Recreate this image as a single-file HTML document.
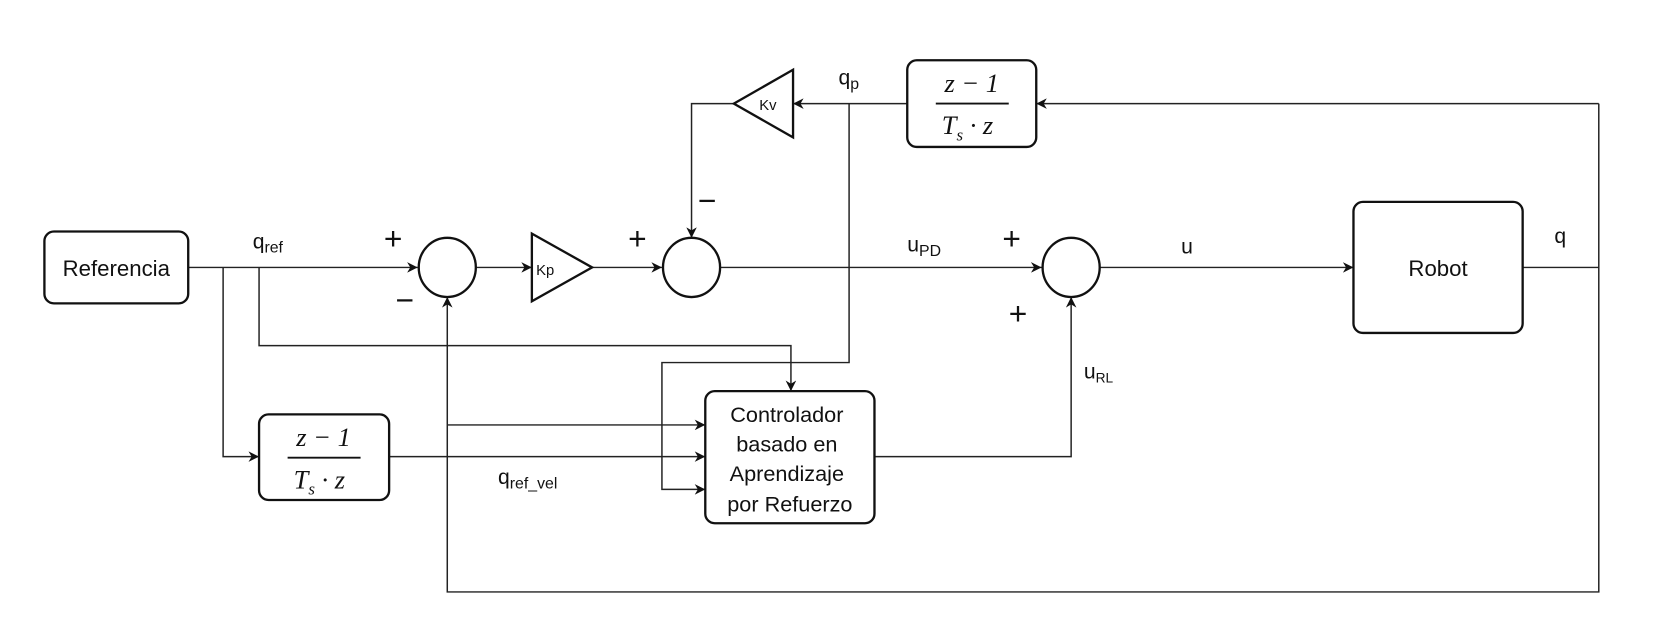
<!DOCTYPE html>
<html><head><meta charset="utf-8"><style>
html,body{margin:0;padding:0;background:#fff;}
svg{display:block;}
text{font-family:"Liberation Sans",sans-serif;fill:#111;}
.m{font-family:"Liberation Serif",serif;font-style:italic;}
</style></head><body>
<svg width="1658" height="630" viewBox="0 0 1568 596" preserveAspectRatio="none" xmlns="http://www.w3.org/2000/svg">
<defs>
<marker id="a" viewBox="0 0 10 10" refX="10" refY="5" markerWidth="10" markerHeight="10" markerUnits="userSpaceOnUse" orient="auto">
<path d="M0,0 L10,5 L0,10 L3,5 Z" fill="#111"/>
</marker>
</defs>
<g fill="none" stroke="#222" stroke-width="1.4">
<!-- main line -->
<path d="M178,253 H395" marker-end="url(#a)"/>
<path d="M450,253 H503" marker-end="url(#a)"/>
<path d="M560,253 H626" marker-end="url(#a)"/>
<path d="M681,253 H985" marker-end="url(#a)"/>
<path d="M1040,253 H1280" marker-end="url(#a)"/>
<path d="M1440,253 H1512"/>
<!-- branches -->
<path d="M211,253 V432 H245" marker-end="url(#a)"/>
<path d="M245,253 V327 H748 V370" marker-end="url(#a)"/>
<path d="M368,432 H667" marker-end="url(#a)"/>
<path d="M423,402 H667" marker-end="url(#a)"/>
<path d="M803,98 V343 H626 V463 H667" marker-end="url(#a)"/>
<!-- feedback -->
<path d="M1512,98 V560 H423 V281" marker-end="url(#a)"/>
<path d="M1512,98 H980" marker-end="url(#a)"/>
<path d="M858,98 H750" marker-end="url(#a)"/>
<path d="M694,98 H654 V225" marker-end="url(#a)"/>
<path d="M827,432 H1013 V281" marker-end="url(#a)"/>
</g>
<g fill="#fff" stroke="#111" stroke-width="2.2">
<rect x="42" y="219" width="136" height="68" rx="9"/>
<rect x="245" y="392" width="123" height="81" rx="9"/>
<rect x="858" y="57" width="122" height="82" rx="9"/>
<rect x="667" y="370" width="160" height="125" rx="9"/>
<rect x="1280" y="191" width="160" height="124" rx="9"/>
<ellipse cx="423" cy="253" rx="27" ry="28"/>
<ellipse cx="654" cy="253" rx="27" ry="28"/>
<ellipse cx="1013" cy="253" rx="27" ry="28"/>
<path d="M503,221 L560,253 L503,285 Z"/>
<path d="M750,66 L694,98 L750,130 Z"/>
</g>
<g stroke="#111" stroke-width="1.8">
<line x1="272" y1="433" x2="341" y2="433"/>
<line x1="885" y1="98" x2="954" y2="98"/>
</g>
<text x="110" y="261" font-size="21" text-anchor="middle">Referencia</text>
<text x="1360" y="261" font-size="21" text-anchor="middle">Robot</text>
<text font-size="20.5" text-anchor="middle">
<tspan x="747" y="399">Controlador</tspan>
<tspan x="747" y="427">basado en</tspan>
<tspan x="747" y="455">Aprendizaje</tspan>
<tspan x="747" y="484">por Refuerzo</tspan>
</text>
<text x="507" y="260" font-size="14">Kp</text>
<text x="718" y="104" font-size="14">Kv</text>
<text class="m" x="306" y="422" font-size="25" text-anchor="middle">z − 1</text>
<text class="m" x="302" y="462" font-size="25" text-anchor="middle">T<tspan font-size="16" dy="6">s</tspan><tspan dy="-6"> · z</tspan></text>
<text class="m" x="919" y="87" font-size="25" text-anchor="middle">z − 1</text>
<text class="m" x="915" y="127" font-size="25" text-anchor="middle">T<tspan font-size="16" dy="6">s</tspan><tspan dy="-6"> · z</tspan></text>
<text x="239" y="235" font-size="20">q<tspan font-size="15" dy="4">ref</tspan></text>
<text x="793" y="80" font-size="20">q<tspan font-size="15" dy="4">p</tspan></text>
<text x="471" y="458" font-size="20">q<tspan font-size="15" dy="4">ref_vel</tspan></text>
<text x="858" y="238" font-size="20">u<tspan font-size="15" dy="4">PD</tspan></text>
<text x="1117" y="240" font-size="20">u</text>
<text x="1470" y="230" font-size="20">q</text>
<text x="1025" y="358" font-size="20">u<tspan font-size="13" dy="4">RL</tspan></text>
<g font-size="30">
<text x="363" y="236">+</text>
<text x="594" y="236">+</text>
<text x="948" y="236">+</text>
<text x="954" y="307">+</text>
<text x="374" y="294">−</text>
<text x="660" y="200">−</text>
</g>
</svg>
</body></html>
